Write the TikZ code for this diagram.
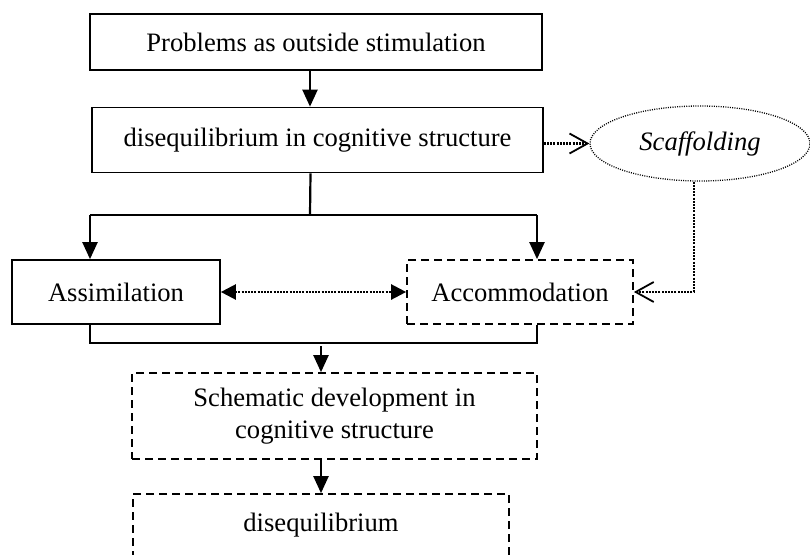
\documentclass[tikz,border=0pt]{standalone}
\usepackage{fontspec}
\setmainfont{Liberation Serif}
\usetikzlibrary{arrows.meta,shapes.geometric}
\tikzstyle{block}=[draw, line width=1.7pt, inner sep=0pt, align=center]
\tikzstyle{dblock}=[block, dash pattern=on 8pt off 5pt]
\tikzstyle{arr}=[draw, line width=2.2pt, -{Triangle[length=17pt,width=15pt]}]
\tikzstyle{dots}=[draw, line width=2.4pt, dash pattern=on 2pt off 1.2pt]
\tikzstyle{barb}=[dots, -{Straight Barb[length=18pt,width=20pt,line width=1.8pt]}]
\newcommand{\block}{\node[block]}

\begin{document}
\begin{tikzpicture}[x=1pt, y=-1pt
    ,font=\fontsize{26.6}{32}\selectfont
]
\useasboundingbox (0,0) rectangle (810,554);
\block (prob) at (316,42) [minimum width=452pt, minimum height=56pt] {Problems as outside stimulation};
\block (dis) at (317.5,140) [minimum width=451pt, minimum height=65pt] {disequilibrium in cognitive structure};
\node[ellipse, draw, line width=1.3pt, dash pattern=on 1pt off 1.3pt, inner sep=0pt,
      minimum width=220pt, minimum height=75pt] (scaf) at (700,143.5) {\itshape Scaffolding};
\block (assim) at (116,292) [minimum width=208pt, minimum height=64pt] {Assimilation};
\node[dblock] (acco) at (520,292) [minimum width=226pt, minimum height=64pt] {Accommodation};
\node[dblock] (schem) at (334.5,416) [minimum width=405pt, minimum height=86pt] {Schematic development in\\cognitive structure};
\node[dblock] (dq) at (321,525) [minimum width=376pt, minimum height=62pt] {disequilibrium};

\coordinate (fork) at (310,215);
\coordinate (la) at (90,215);
\coordinate (ra) at (537,215);
\coordinate (lb) at (90,343);
\coordinate (rb) at (537,343);
\coordinate (jn) at (321,346);

% main flow
\draw[arr] ([xshift=-6pt]prob.south) -- ([xshift=-6pt]prob.south |- dis.north);
\draw[line width=2.2pt] ([xshift=-7pt]dis.south) -- (fork);
\draw[line width=2.2pt] (la) -- (ra);
\draw[arr] (la) -- (la |- assim.north);
\draw[arr] (ra) -- (ra |- acco.north);
\draw[line width=2pt] (lb |- assim.south) -- (lb) -- (rb) -- (rb |- acco.south);
\draw[arr] (jn) -- (jn |- schem.north);
\draw[arr] (dq.north |- schem.south) -- (dq.north);

% dotted links
\draw[dots, {Triangle[length=15pt,width=15pt]}-{Triangle[length=15pt,width=15pt]}] (assim.east) -- (acco.west);
\draw[barb] (dis.east |- scaf.west) -- (scaf.west);
\draw[barb] ([xshift=-6pt]scaf.south) |- (acco.east);
\end{tikzpicture}
\end{document}
